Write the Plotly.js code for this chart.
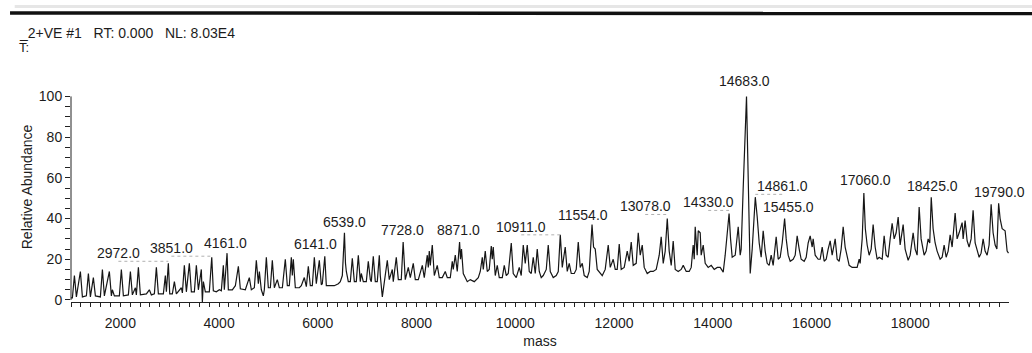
<!DOCTYPE html>
<html>
<head>
<meta charset="utf-8">
<script src="https://cdn.plot.ly/plotly-3.0.1.min.js"></script>
<style>html,body{margin:0;padding:0;background:#fff;}#chart{width:1032px;height:353px;}</style>
</head>
<body>
<div id="chart"></div>
<script>
// Mass spectrum profile (mass, relative abundance)
var mass = [1000,1028,1069,1109,1190,1231,1312,1352,1393,1453,1494,1595,1636,1676,1777,1818,1838,1879,1980,2020,2061,2162,2203,2243,2304,2324,2365,2405,2527,2587,2628,2689,2729,2770,2871,2911,2932,2972,3000,3053,3094,3134,3235,3256,3296,3337,3397,3438,3499,3539,3580,3640,3661,3681,3721,3802,3851,3883,3944,4005,4045,4086,4106,4161,4187,4268,4329,4390,4430,4531,4612,4653,4714,4754,4795,4815,4855,4896,4916,4957,4997,5038,5078,5119,5179,5220,5281,5341,5382,5422,5463,5483,5503,5544,5625,5665,5726,5767,5807,5848,5888,5929,5969,5989,6030,6070,6091,6141,6172,6232,6334,6415,6455,6496,6539,6560,6577,6617,6658,6698,6739,6779,6820,6860,6880,6921,6982,7022,7063,7083,7123,7164,7204,7245,7265,7306,7346,7407,7447,7508,7528,7589,7630,7690,7728,7771,7832,7873,7933,7974,8035,8116,8156,8217,8237,8257,8278,8318,8359,8419,8460,8521,8581,8622,8683,8723,8743,8784,8824,8871,8890,8910,8946,9027,9088,9169,9250,9290,9331,9351,9391,9432,9472,9513,9533,9553,9594,9634,9675,9736,9776,9817,9857,9918,9958,10019,10080,10120,10161,10201,10242,10282,10323,10363,10404,10444,10485,10525,10566,10627,10667,10708,10768,10829,10870,10911,10951,11011,11052,11092,11133,11194,11234,11275,11315,11356,11396,11457,11497,11554,11585,11619,11659,11720,11761,11821,11882,11923,11983,12024,12064,12105,12145,12206,12267,12307,12348,12388,12449,12490,12530,12571,12611,12672,12733,12793,12854,12915,12955,12996,13036,13078,13117,13158,13198,13239,13300,13360,13401,13462,13522,13563,13603,13624,13644,13684,13705,13745,13765,13806,13846,13907,13968,14029,14090,14150,14211,14251,14292,14330,14360,14393,14454,14494,14515,14555,14575,14616,14646,14683,14707,14727,14758,14798,14839,14861,14899,14940,14980,15021,15061,15102,15142,15183,15223,15284,15325,15365,15406,15455,15487,15527,15568,15628,15669,15709,15750,15790,15851,15892,15932,15973,16013,16033,16074,16135,16175,16216,16256,16297,16337,16378,16418,16479,16519,16560,16600,16641,16681,16722,16762,16823,16884,16924,16965,16985,17026,17060,17090,17127,17167,17208,17248,17289,17329,17370,17431,17471,17512,17552,17593,17633,17674,17714,17755,17795,17856,17896,17957,17998,18058,18099,18139,18180,18220,18281,18322,18362,18395,18425,18463,18504,18544,18605,18646,18686,18727,18767,18808,18848,18909,18949,18990,19051,19071,19111,19152,19192,19233,19273,19314,19354,19395,19435,19476,19516,19557,19597,19638,19678,19719,19755,19790,19820,19861,19921,19962,19990];
var abundance = [1,1,12,1.5,14,1.5,2,13,1.5,11,2,1.5,15,2,14,2,5,2,2,15,2,2.5,14,2.5,6,2.5,16,2.5,3,5,2.5,3,16,3,3,12,4,18,3,3,9,3,6,3.5,17,4,18,4,4,17,5,15,-1,9,4,4,21,4.5,4,5,4.5,17,5,23,5,5,7,16.5,5.5,5,11,5,6,19.5,8,14,5,2,5,21,6,6,19.5,6,10,6,6,20,7,7,21,12,20,6,6,7,11,6.5,16.5,7,7,21,8,12,19.5,7.5,8,21.5,7,7,7,8,9,12,33,18,14,9,9,20.5,9,9,22,9,13,9,9,19,10,9,21.5,9,9,22,12,1.5,8,19.5,10,15,9,21,10,10,28.5,10,16,11,18,10,10,17,11,22,16,24,17,27,12,17,11,11,14,11,11,19,15,22,14,28.5,20,25,13,9,10,9,11,14,21,15,24,14,15,26.5,20,26,12,17,11,11,17,12,13,28,13,11,16,12,27,18,27,14,13,21,13,25,14,11,12,15,27,14,11,12,14,32,16,26,14,18,13,13,15,28.5,16,18,12,11,14,37,26,25,15,13,12,15,27,16,20,15,15,27.5,15,16,24,19,28.5,17,18,33,22,27,16,13,14,14,15,22,31,18,24,40,24,17,29,15,14,15,17,14,14,16,27,20,36,22,34,33,22,27,18,16,17,15,16,16,13.7,22,35,42.5,30,21,22,30,36,22,25,55,75,100,72,40,13,25,45,50.5,41,28,21,34,24,18,17,22,17,31,20,21,28,40,30,22,19,20,22,31.5,25,20,19,21,28,31.5,26,30,22,20,20,26,19,20,25,29,22,30,20,19,25,36,26,22,17,16,16,16,20,18,30,52.5,35,27,22,25,37,26,20,21,20,31.5,22,21,30,37.7,30,33,40.7,27,37,25,19.5,22,33,25,22,45.7,30,22,24,30,28,50.5,35,28,24,20,21,27,21,24,32,26,42.7,30,33,38,30,39,29,26,30,44,28,24,21,23,30,24,22,27,47,33,27,25,47.5,40,35,34,24,23];

// Peak labels: text, peak mass, label centre (mass), label height (abundance)
var peakLabels = ["2972.0","3851.0","4161.0","6141.0","6539.0","7728.0","8871.0","10911.0","11554.0","13078.0","14330.0","14683.0","14861.0","15455.0","17060.0","18425.0","19790.0"];
var peakMass   = [2972,3851,4161,6141,6539,7728,8871,10911,11554,13078,14330,14683,14861,15455,17060,18425,19790];
var labelMass  = [1960,3033,4126,5949,6536,7710,8844,10120,11376,12631,13907,14636,15406,15527,17086,18443,19800];
var labelAbund = [23,25.5,28,27.5,38.5,34.3,34.3,36,41.7,46,48,107.8,55.9,45.6,58.8,55.9,53];

// Axis ticks: labelled values and tick step
var xLabelled = [2000,4000,6000,8000,10000,12000,14000,16000,18000];
var yLabelled = [0,20,40,60,80,100];
var xTickStep = 200;
var yTickStep = 5;

var font = "Liberation Sans, Arial, sans-serif";
var txtCol = "#1c1c1c";

var xTickVals = [], xTickText = [];
for (var m = 1000; m <= 19800; m += xTickStep) {
  xTickVals.push(m);
  xTickText.push(xLabelled.indexOf(m) >= 0 ? String(m) : "");
}
var yTickVals = [], yTickText = [];
for (var k = 0; k <= 100; k += yTickStep) {
  yTickVals.push(k);
  yTickText.push(yLabelled.indexOf(k) >= 0 ? String(k) : "");
}

var annotations = [];
var shapes = [];
for (var i = 0; i < peakLabels.length; i++) {
  annotations.push({x: labelMass[i], y: labelAbund[i], xref: "x", yref: "y", text: peakLabels[i],
    showarrow: false, xanchor: "center", yanchor: "middle", font: {family: font, size: 14, color: txtCol}});
  if (Math.abs(labelMass[i] - peakMass[i]) > 200) {
    shapes.push({type: "line", xref: "x", yref: "y", x0: labelMass[i], x1: peakMass[i],
      y0: labelAbund[i] - 4, y1: labelAbund[i] - 4, line: {color: "#b0b0b0", width: 1, dash: "dot"}});
  }
}
// header texts
annotations.push({xref: "paper", yref: "paper", x: -0.058, y: 1.17, xanchor: "left", yanchor: "middle", showarrow: false,
  text: "_2+VE #1\u00a0\u00a0\u00a0RT: 0.000\u00a0\u00a0\u00a0NL: 8.03E4", font: {family: font, size: 14, color: txtCol}});
annotations.push({xref: "paper", yref: "paper", x: -0.058, y: 1.108, xanchor: "left", yanchor: "middle", showarrow: false,
  text: "T:", font: {family: font, size: 13, color: txtCol}});

// y axis line only from 0 to 100
shapes.push({type: "line", xref: "paper", yref: "y", x0: 0, x1: 0, y0: 0, y1: 100, line: {color: "#222", width: 1}});
// scan border line at top
shapes.push({type: "line", xref: "paper", yref: "paper", x0: -0.065, x1: 1.03, y0: 1.257, y1: 1.254, line: {color: "#111", width: 3.5}});
shapes.push({type: "line", xref: "paper", yref: "paper", x0: -0.06, x1: 1.03, y0: 1.285, y1: 1.285, line: {color: "#e6e6e6", width: 3}});

var trace = {x: mass, y: abundance, type: "scatter", mode: "lines",
  line: {color: "#161616", width: 1.2}, hoverinfo: "skip", cliponaxis: false};

var layout = {
  width: 1032, height: 353,
  margin: {l: 71, r: 23, t: 72, b: 51, pad: 0},
  paper_bgcolor: "#fff", plot_bgcolor: "#fff",
  showlegend: false,
  xaxis: {range: [1000, 20000], showgrid: false, zeroline: false, showline: true, linecolor: "#222", linewidth: 1,
    tickmode: "array", tickvals: xTickVals, ticktext: xTickText, ticks: "outside", ticklen: 4, tickcolor: "#222",
    ticklabelstandoff: 4,
    tickfont: {family: font, size: 14, color: txtCol},
    title: {text: "mass", font: {family: font, size: 14, color: txtCol}, standoff: 6}},
  yaxis: {range: [-1, 112], showgrid: false, zeroline: false, showline: false,
    tickmode: "array", tickvals: yTickVals, ticktext: yTickText, ticks: "outside", ticklen: 5, tickcolor: "#222",
    tickfont: {family: font, size: 14, color: txtCol},
    title: {text: "Relative Abundance", font: {family: font, size: 14, color: txtCol}, standoff: 2}},
  annotations: annotations,
  shapes: shapes
};

Plotly.newPlot("chart", [trace], layout, {displayModeBar: false, staticPlot: true});
</script>
</body>
</html>
